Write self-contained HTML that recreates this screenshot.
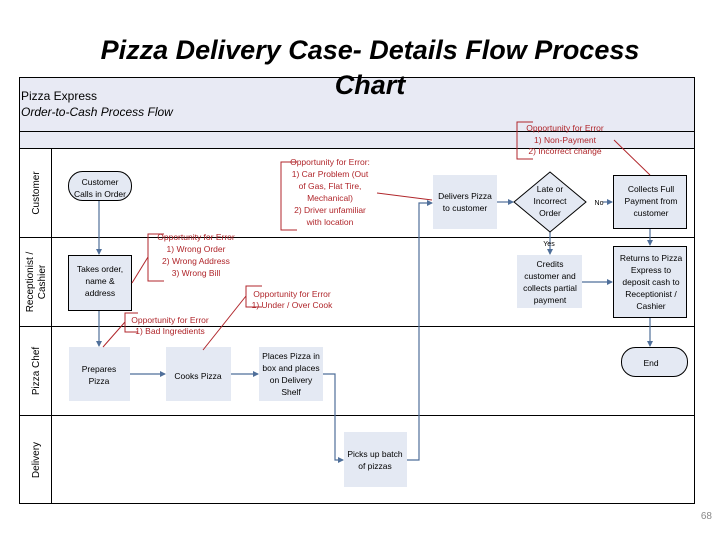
<!DOCTYPE html>
<html><head><meta charset="utf-8"><style>
html,body{margin:0;padding:0;background:#fff;}
svg{display:block;font-family:"Liberation Sans",sans-serif;}
</style></head><body>
<svg width="720" height="540" viewBox="0 0 720 540" xmlns="http://www.w3.org/2000/svg">
<defs>
<marker id="a" markerWidth="6" markerHeight="6" refX="5" refY="3" orient="auto" markerUnits="userSpaceOnUse"><path d="M0,0 L6,3 L0,6z" fill="#4f6f9a"/></marker>
</defs>
<rect x="19.5" y="77.5" width="675" height="426" fill="#fff" stroke="#000"/>
<rect x="20" y="78" width="674" height="70" fill="#e8eaf4"/>
<line x1="19" y1="131.5" x2="694" y2="131.5" stroke="#000"/>
<line x1="19" y1="148.5" x2="694" y2="148.5" stroke="#000"/>
<line x1="19" y1="237.5" x2="694" y2="237.5" stroke="#000"/>
<line x1="19" y1="326.5" x2="694" y2="326.5" stroke="#000"/>
<line x1="19" y1="415.5" x2="694" y2="415.5" stroke="#000"/>
<line x1="51.5" y1="148" x2="51.5" y2="504" stroke="#000"/>
<g font-size="10" fill="#000" text-anchor="middle">
<text transform="translate(39,193) rotate(-90)">Customer</text>
<text transform="translate(33,282) rotate(-90)">Receptionist /</text>
<text transform="translate(45,282) rotate(-90)">Cashier</text>
<text transform="translate(39,371) rotate(-90)">Pizza Chef</text>
<text transform="translate(39,460) rotate(-90)">Delivery</text>
</g>
<text x="21" y="100" font-size="12">Pizza Express</text>
<text x="21" y="116" font-size="12" font-style="italic">Order-to-Cash Process Flow</text>
<g font-size="27" font-weight="bold" font-style="italic" text-anchor="middle">
<text x="370" y="59">Pizza Delivery Case- Details Flow Process</text>
<text x="370" y="94">Chart</text>
</g>
<text x="712" y="519" font-size="10" fill="#888" text-anchor="end">68</text>

<g stroke="#4f6f9a" stroke-width="1.2" fill="none">
<line x1="99" y1="200" x2="99" y2="254" marker-end="url(#a)"/>
<line x1="99" y1="310" x2="99" y2="346" marker-end="url(#a)"/>
<line x1="130" y1="374" x2="165" y2="374" marker-end="url(#a)"/>
<line x1="231" y1="374" x2="258" y2="374" marker-end="url(#a)"/>
<polyline points="323,374 335,374 335,460 343,460" marker-end="url(#a)"/>
<polyline points="407,460 419,460 419,203 432,203" marker-end="url(#a)"/>
<line x1="497" y1="202" x2="513" y2="202" marker-end="url(#a)"/>
<line x1="603" y1="202" x2="612" y2="202" marker-end="url(#a)"/>
<line x1="550" y1="232" x2="550" y2="254" marker-end="url(#a)"/>
<line x1="582" y1="282" x2="612" y2="282" marker-end="url(#a)"/>
<line x1="650" y1="228" x2="650" y2="245" marker-end="url(#a)"/>
<line x1="650" y1="317" x2="650" y2="346" marker-end="url(#a)"/>
</g>

<g fill="#e4e9f3" stroke="#000" stroke-width="1">
<rect x="68.5" y="171.5" width="63" height="29" rx="14"/>
<rect x="68.5" y="255.5" width="63" height="55"/>
<rect x="613.5" y="175.5" width="73" height="53"/>
<rect x="613.5" y="246.5" width="73" height="71"/>
<rect x="621.5" y="347.5" width="66" height="29" rx="14"/>
<polygon points="550,172 586,202 550,232 514,202"/>
</g>
<g fill="#e4e9f3">
<rect x="69" y="347" width="61" height="54"/>
<rect x="166" y="347" width="65" height="54"/>
<rect x="259" y="347" width="64" height="54"/>
<rect x="344" y="432" width="63" height="55"/>
<rect x="433" y="175" width="64" height="54"/>
<rect x="517" y="255" width="65" height="53"/>
</g>
<g font-size="8.5" text-anchor="middle" fill="#000">
<text x="100" y="185">Customer</text><text x="100" y="197">Calls in Order</text>
<text x="100" y="272">Takes order,</text><text x="100" y="284">name &amp;</text><text x="100" y="296">address</text>
<text x="99" y="372">Prepares</text><text x="99" y="384">Pizza</text>
<text x="198" y="379">Cooks Pizza</text>
<text x="291" y="359">Places Pizza in</text><text x="291" y="371">box and places</text><text x="291" y="383">on Delivery</text><text x="291" y="395">Shelf</text>
<text x="375" y="457">Picks up batch</text><text x="375" y="469">of pizzas</text>
<text x="465" y="199">Delivers Pizza</text><text x="465" y="211">to customer</text>
<text x="550" y="192">Late or</text><text x="550" y="204">Incorrect</text><text x="550" y="216">Order</text>
<text x="651" y="192">Collects Full</text><text x="651" y="204">Payment from</text><text x="651" y="216">customer</text>
<text x="550" y="267">Credits</text><text x="550" y="279">customer and</text><text x="550" y="291">collects partial</text><text x="550" y="303">payment</text>
<text x="651" y="261">Returns to Pizza</text><text x="651" y="273">Express to</text><text x="651" y="285">deposit cash to</text><text x="651" y="297">Receptionist /</text><text x="651" y="309">Cashier</text>
<text x="651" y="366">End</text>
<text x="549" y="246" font-size="7">Yes</text>
<text x="599" y="205" font-size="7">No</text>
</g>

<g stroke="#b0262b" fill="none" stroke-width="1">
<polyline points="297,162 281,162 281,230 297,230"/>
<line x1="377" y1="193" x2="432" y2="200"/>
<polyline points="164,234 148,234 148,281 164,281"/>
<line x1="148" y1="257" x2="132" y2="283"/>
<polyline points="262,286 246,286 246,307 262,307"/>
<line x1="246" y1="296" x2="203" y2="350"/>
<polyline points="138,313 125,313 125,332 138,332"/>
<line x1="125" y1="322" x2="103" y2="347"/>
<polyline points="533,122 517,122 517,159 533,159"/>
<line x1="614" y1="140" x2="650" y2="175"/>
</g>
<g font-size="8.5" fill="#b0262b" text-anchor="middle">
<text x="330" y="165">Opportunity for Error:</text>
<text x="330" y="177">1) Car Problem (Out</text>
<text x="330" y="189">of Gas, Flat Tire,</text>
<text x="330" y="201">Mechanical)</text>
<text x="330" y="213">2) Driver unfamiliar</text>
<text x="330" y="225">with location</text>
<text x="196" y="240">Opportunity for Error</text>
<text x="196" y="252">1) Wrong Order</text>
<text x="196" y="264">2) Wrong Address</text>
<text x="196" y="276">3) Wrong Bill</text>
<text x="292" y="297">Opportunity for Error</text>
<text x="292" y="308">1) Under / Over Cook</text>
<text x="170" y="323">Opportunity for Error</text>
<text x="170" y="334">1) Bad Ingredients</text>
<text x="565" y="131">Opportunity for Error</text>
<text x="565" y="143">1) Non-Payment</text>
<text x="565" y="154">2) Incorrect change</text>
</g>
</svg>
</body></html>
